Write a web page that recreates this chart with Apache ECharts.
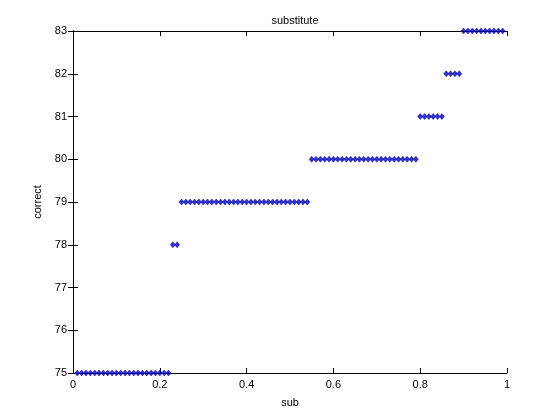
<!DOCTYPE html>
<html>
<head>
<meta charset="utf-8">
<script src="https://cdn.jsdelivr.net/npm/echarts@6/dist/echarts.min.js"></script>
<style>html,body{margin:0;padding:0;background:#fff}#c{width:560px;height:420px}</style>
</head>
<body>
<div id="c"></div>
<script>
var sub = [0.01,0.02,0.03,0.04,0.05,0.06,0.07,0.08,0.09,0.10,
0.11,0.12,0.13,0.14,0.15,0.16,0.17,0.18,0.19,0.20,
0.21,0.22,0.23,0.24,0.25,0.26,0.27,0.28,0.29,0.30,
0.31,0.32,0.33,0.34,0.35,0.36,0.37,0.38,0.39,0.40,
0.41,0.42,0.43,0.44,0.45,0.46,0.47,0.48,0.49,0.50,
0.51,0.52,0.53,0.54,0.55,0.56,0.57,0.58,0.59,0.60,
0.61,0.62,0.63,0.64,0.65,0.66,0.67,0.68,0.69,0.70,
0.71,0.72,0.73,0.74,0.75,0.76,0.77,0.78,0.79,0.80,
0.81,0.82,0.83,0.84,0.85,0.86,0.87,0.88,0.89,0.90,
0.91,0.92,0.93,0.94,0.95,0.96,0.97,0.98,0.99];
var correct = [75,75,75,75,75,75,75,75,75,75,
75,75,75,75,75,75,75,75,75,75,
75,75,78,78,79,79,79,79,79,79,
79,79,79,79,79,79,79,79,79,79,
79,79,79,79,79,79,79,79,79,79,
79,79,79,79,80,80,80,80,80,80,
80,80,80,80,80,80,80,80,80,80,
80,80,80,80,80,80,80,80,80,81,
81,81,81,81,81,82,82,82,82,83,
83,83,83,83,83,83,83,83,83];
var xTicks = [0, 0.2, 0.4, 0.6, 0.8, 1];
var yTicks = [75, 76, 77, 78, 79, 80, 81, 82, 83];

var pts = sub.map(function(v, i){ return [v, correct[i]]; });
var font = 'Liberation Sans, Arial, Helvetica, sans-serif';
var chart = echarts.init(document.getElementById('c'));
var axLine = {show:true, lineStyle:{color:'#000', width:1}};
var tick = {show:true, inside:true, length:5, lineStyle:{color:'#000'}};
chart.setOption({
  animation:false,
  backgroundColor:'#fff',
  title:{text:'substitute', left:290, top:10, textAlign:'center',
    textStyle:{fontFamily:font, fontSize:11, fontWeight:'normal', color:'#000'}},
  grid:{left:73, right:53, top:31, bottom:47},
  xAxis:[{type:'value', min:0, max:1, interval:0.2, name:'sub', nameLocation:'middle', nameGap:24,
    nameTextStyle:{fontFamily:font, fontSize:11, color:'#000'},
    axisLine:axLine, axisTick:tick, splitLine:{show:false},
    axisLabel:{fontFamily:font, fontSize:11, color:'#000', margin:6,
      formatter:function(v){ return xTicks.indexOf(v) >= 0 ? String(v) : ''; }}},
    {type:'value', position:'top', min:0, max:1, interval:0.2,
    axisLine:axLine, axisTick:tick, splitLine:{show:false}, axisLabel:{show:false}}],
  yAxis:[{type:'value', min:75, max:83, interval:1, name:'correct', nameLocation:'middle', nameGap:20,
    nameTextStyle:{fontFamily:font, fontSize:11, color:'#000'},
    axisLine:axLine, axisTick:tick, splitLine:{show:false},
    axisLabel:{fontFamily:font, fontSize:11, color:'#000', margin:6,
      formatter:function(v){ return yTicks.indexOf(v) >= 0 ? String(v) : ''; }}},
    {type:'value', position:'right', min:75, max:83, interval:1,
    axisLine:axLine, axisTick:tick, splitLine:{show:false}, axisLabel:{show:false}}],
  series:[{type:'scatter', data:pts, symbol:'diamond', symbolSize:[5,6], clip:false,
    itemStyle:{color:'#0000c8', borderColor:'#000080', borderWidth:0.6}}]
});
</script>
</body>
</html>
